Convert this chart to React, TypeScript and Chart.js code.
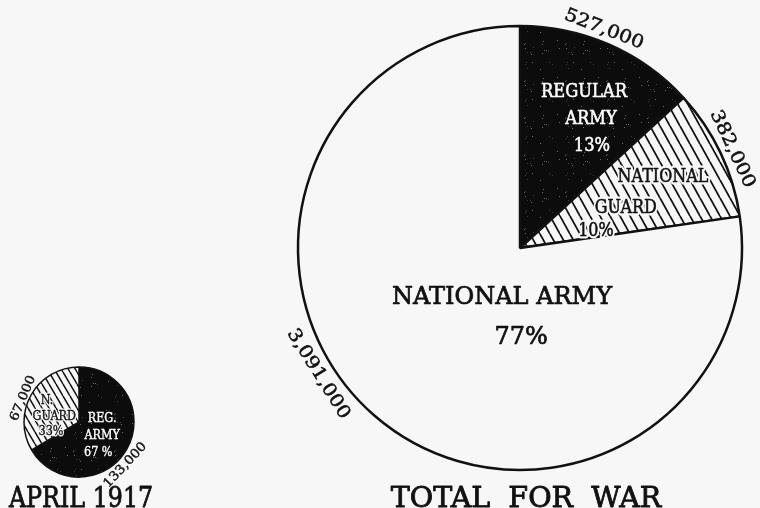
import React, { useEffect, useRef } from "react";
import { Chart, registerables } from "chart.js";

Chart.register(...registerables);

// ---------- data ----------
const warCategories = ["Regular Army", "National Guard", "National Army"];
const warValues = [527000, 382000, 3091000];
const warValueLabels = ["527,000", "382,000", "3,091,000"];
const warSliceLines = [["REGULAR", "ARMY", "13%"], ["NATIONAL", "GUARD", "10%"], ["NATIONAL ARMY", "77%"]];
const warTitle = "TOTAL  FOR  WAR";

const aprilCategories = ["Regular Army", "National Guard"];
const aprilValues = [133000, 67000];
const aprilValueLabels = ["133,000", "67,000"];
const aprilSliceLines = [["REG.", "ARMY", "67 %"], ["N.", "GUARD", "33%"]];
const aprilTitle = "APRIL 1917";

// ---------- style / layout ----------
const BG = "#f7f7f7";
const INK = "#111111";
const FONT = '"DejaVu Serif", serif';

function makeHatch(w: number, h: number, lw: number): CanvasPattern {
  const c = document.createElement("canvas");
  c.width = w;
  c.height = h;
  const g = c.getContext("2d")!;
  g.fillStyle = BG;
  g.fillRect(0, 0, w, h);
  g.strokeStyle = INK;
  g.lineWidth = lw;
  for (const k of [-1, 0, 1]) {
    g.beginPath();
    g.moveTo(k * w, 0);
    g.lineTo(k * w + w, h);
    g.stroke();
  }
  return g.createPattern(c, "repeat")!;
}

function makeSpeckle(): CanvasPattern {
  const w = 41, h = 37;
  const c = document.createElement("canvas");
  c.width = w;
  c.height = h;
  const g = c.getContext("2d")!;
  g.fillStyle = "#0c0c0c";
  g.fillRect(0, 0, w, h);
  let s = 12345;
  const next = () => {
    s = (s * 1103515245 + 12345) % 2147483648;
    return s / 2147483648;
  };
  for (let i = 0; i < 22; i++) {
    const x = Math.floor(next() * w);
    const y = Math.floor(next() * h);
    g.fillStyle = next() > 0.5 ? "#6a6a6a" : "#404040";
    g.fillRect(x, y, 1, 1);
  }
  return g.createPattern(c, "repeat")!;
}

function drawText(
  ctx: CanvasRenderingContext2D,
  text: string,
  x: number,
  y: number,
  rotDeg: number,
  size: number,
  sx: number,
  color: string,
  halo: number
) {
  ctx.save();
  ctx.translate(x, y);
  ctx.rotate((rotDeg * Math.PI) / 180);
  ctx.scale(sx, 1);
  ctx.font = `${size}px ${FONT}`;
  ctx.textAlign = "center";
  ctx.textBaseline = "alphabetic";
  ctx.lineJoin = "round";
  const dy = size * 0.365;
  if (halo > 0) {
    ctx.lineWidth = halo;
    ctx.strokeStyle = BG;
    ctx.strokeText(text, 0, dy);
  }
  ctx.fillStyle = color;
  ctx.fillText(text, 0, dy);
  ctx.lineWidth = Math.max(0.4, size * 0.03);
  ctx.strokeStyle = color;
  ctx.strokeText(text, 0, dy);
  ctx.restore();
}

interface SliceStyle {
  size: number;
  sx: number;
  color: string;
  halo: number;
}

interface PieDecor {
  lines: string[][];
  linePos: number[][][]; // offsets in units of radius
  sliceStyle: SliceStyle[];
  valueLabels: string[];
  valueAngles: number[]; // degrees clockwise from 12 o'clock
  valueGap: number;
  valueSize: number;
  valueSx: number;
  title: string;
  titleDx: number;
  titleDy: number; // baseline below the circle bottom
  titleSize: number;
  titleSx: number;
}

function makeDecorPlugin(id: string, d: PieDecor) {
  return {
    id,
    afterDraw(chart: Chart) {
      const arc: any = chart.getDatasetMeta(0).data[0];
      if (!arc) return;
      const cx = arc.x, cy = arc.y, r = arc.outerRadius;
      const ctx = chart.ctx;
      d.lines.forEach((lines, i) => {
        const st = d.sliceStyle[i];
        lines.forEach((t, j) => {
          const p = d.linePos[i][j];
          drawText(ctx, t, cx + p[0] * r, cy + p[1] * r, 0, st.size, st.sx, st.color, st.halo);
        });
      });
      d.valueLabels.forEach((t, i) => {
        const a = d.valueAngles[i];
        const rad = (a * Math.PI) / 180;
        const R = r + d.valueGap;
        const x = cx + R * Math.sin(rad);
        const y = cy - R * Math.cos(rad);
        const rot = a > 90 && a < 270 ? a - 180 : a > 270 ? a - 360 : a;
        drawText(ctx, t, x, y, rot, d.valueSize, d.valueSx, INK, 0);
      });
      ctx.save();
      ctx.translate(cx + d.titleDx, cy + r + d.titleDy);
      ctx.scale(d.titleSx, 1);
      ctx.font = `${d.titleSize}px ${FONT}`;
      ctx.textAlign = "center";
      ctx.textBaseline = "alphabetic";
      ctx.fillStyle = INK;
      ctx.fillText(d.title, 0, 0);
      ctx.lineWidth = d.titleSize * 0.03;
      ctx.strokeStyle = INK;
      ctx.lineJoin = "round";
      ctx.strokeText(d.title, 0, 0);
      ctx.restore();
    },
  };
}

const warDecor: PieDecor = {
  lines: warSliceLines,
  linePos: [
    [[0.288, -0.712], [0.32, -0.59], [0.324, -0.468]],
    [[0.644, -0.329], [0.477, -0.189], [0.342, -0.086]],
    [[-0.081, 0.212], [0.005, 0.392]],
  ],
  sliceStyle: [
    { size: 19, sx: 0.86, color: "#ffffff", halo: 0 },
    { size: 19, sx: 0.84, color: INK, halo: 5 },
    { size: 24, sx: 1.0, color: INK, halo: 0 },
  ],
  valueLabels: warValueLabels,
  valueAngles: [21, 65, 238],
  valueGap: 14,
  valueSize: 18,
  valueSx: 1.12,
  title: warTitle,
  titleDx: 6,
  titleDy: 37,
  titleSize: 28,
  titleSx: 1.02,
};

const aprilDecor: PieDecor = {
  lines: aprilSliceLines,
  linePos: [
    [[0.42, -0.09], [0.42, 0.22], [0.35, 0.53]],
    [[-0.58, -0.42], [-0.45, -0.13], [-0.51, 0.15]],
  ],
  sliceStyle: [
    { size: 13.5, sx: 0.83, color: "#ffffff", halo: 0 },
    { size: 13.5, sx: 0.83, color: INK, halo: 3 },
  ],
  valueLabels: aprilValueLabels,
  valueAngles: [133, 293],
  valueGap: 7,
  valueSize: 12.5,
  valueSx: 1.1,
  title: aprilTitle,
  titleDx: 2,
  titleDy: 30,
  titleSize: 27,
  titleSx: 0.88,
};

export default function App() {
  const bigRef = useRef<HTMLCanvasElement>(null);
  const smallRef = useRef<HTMLCanvasElement>(null);

  useEffect(() => {
    const speckle = makeSpeckle();
    const big = new Chart(bigRef.current!, {
      type: "pie",
      data: {
        labels: warCategories,
        datasets: [
          {
            data: warValues,
            backgroundColor: [speckle, makeHatch(10, 18, 1.8), BG],
            borderColor: INK,
            borderWidth: 2.5,
          },
        ],
      },
      options: {
        responsive: false,
        animation: false,
        events: [],
        radius: 222,
        layout: { padding: { left: 298, right: 18, top: 26, bottom: 38 } },
        plugins: { legend: { display: false }, tooltip: { enabled: false } },
      } as any,
      plugins: [makeDecorPlugin("warDecor", warDecor)],
    });
    const small = new Chart(smallRef.current!, {
      type: "pie",
      data: {
        labels: aprilCategories,
        datasets: [
          {
            data: aprilValues,
            backgroundColor: [speckle, makeHatch(7, 12, 1.5)],
            borderColor: INK,
            borderWidth: 1.5,
          },
        ],
      },
      options: {
        responsive: false,
        animation: false,
        events: [],
        radius: 55,
        layout: { padding: { left: 24, right: 626, top: 367, bottom: 31 } },
        plugins: { legend: { display: false }, tooltip: { enabled: false } },
      } as any,
      plugins: [makeDecorPlugin("aprilDecor", aprilDecor)],
    });
    return () => {
      big.destroy();
      small.destroy();
    };
  }, []);

  const cs: React.CSSProperties = { position: "absolute", left: 0, top: 0 };
  return (
    <div style={{ position: "fixed", left: 0, top: 0, width: 760, height: 508, background: BG, overflow: "hidden" }}>
      <canvas ref={smallRef} width={760} height={508} style={cs} />
      <canvas ref={bigRef} width={760} height={508} style={cs} />
    </div>
  );
}
